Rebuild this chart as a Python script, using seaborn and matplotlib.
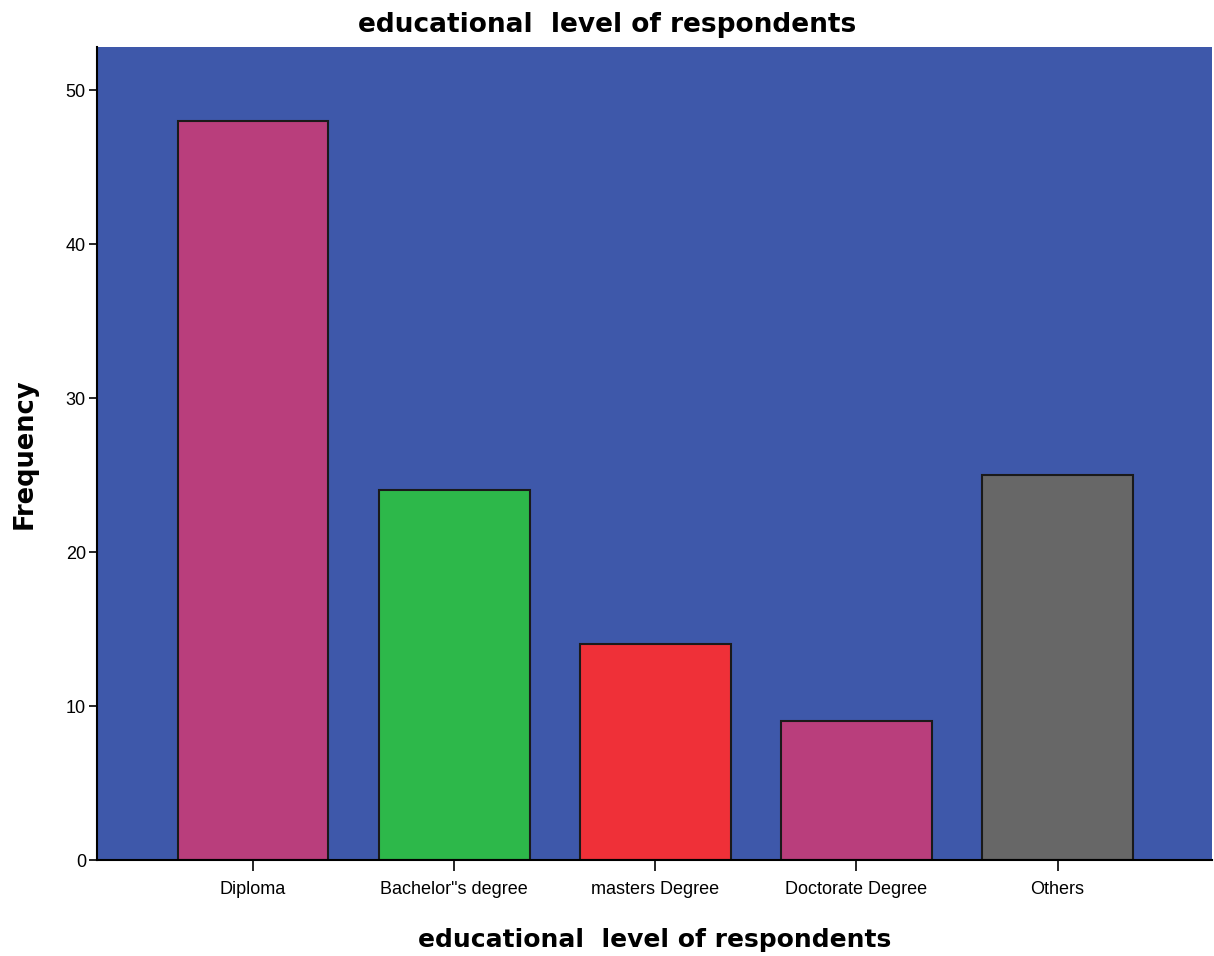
import matplotlib
matplotlib.use('Agg')
import numpy as np
import pandas as pd
import matplotlib.pyplot as plt
import seaborn as sns

# datos
niveles = ['Diploma', 'Bachelor"s degree', 'masters Degree', 'Doctorate Degree', 'Others']
frecuencia = [48, 24, 14, 9, 25]
colores = ['#B93E7C', '#2DB84A', '#EF3038', '#B93E7C', '#676767']

data = pd.DataFrame({'nivel': niveles, 'frecuencia': frecuencia})

sns.set_style('white')
plt.rcParams['font.family'] = ['Liberation Sans', 'DejaVu Sans']
plt.rcParams['text.color'] = 'black'
plt.rcParams['axes.labelcolor'] = 'black'

fig = plt.figure(figsize=(12.14, 9.56), dpi=100)
ax = fig.add_axes([0.0799, 0.1004, 0.9181, 0.8504])

sns.barplot(data=data, x='nivel', y='frecuencia', hue='nivel', palette=colores,
            width=0.75, edgecolor='#1a1a1a', linewidth=1.5, saturation=1,
            legend=False, ax=ax)

ax.set_facecolor('#3E58AA')
ax.set_xlim(-0.776, 4.766)
ax.set_ylim(0, 52.8)
ax.set_yticks([0, 10, 20, 30, 40, 50])

for lado in ['top', 'right']:
    ax.spines[lado].set_visible(False)
for lado in ['left', 'bottom']:
    ax.spines[lado].set_color('black')
    ax.spines[lado].set_linewidth(1.5)

ax.tick_params(axis='y', direction='out', length=6, width=1.2, labelsize=13, colors='black', left=True, pad=2)
ax.tick_params(axis='x', direction='out', length=8, width=1.2, labelsize=13, colors='black', bottom=True, pad=7)

# el titulo va centrado en la figura, no en el eje
fig.suptitle('educational  level of respondents', fontsize=19, fontweight='bold',
             family='DejaVu Sans', color='black', x=0.5, y=0.974, va='center')
ax.set_xlabel('educational  level of respondents', fontsize=18, fontweight='bold',
              family='DejaVu Sans', labelpad=22)
ax.set_ylabel('Frequency', fontsize=18.5, fontweight='bold', family='DejaVu Sans', labelpad=20)

plt.savefig('out.png', dpi=100)
